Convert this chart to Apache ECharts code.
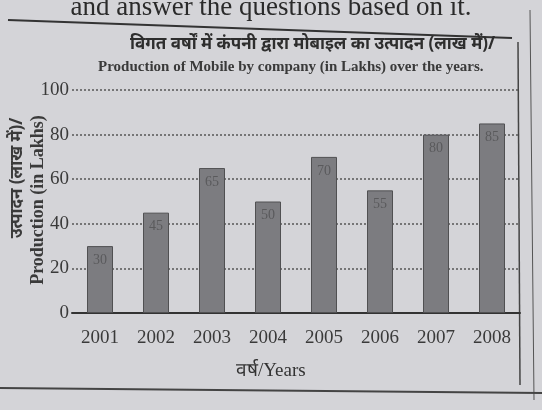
<!DOCTYPE html>
<html><head><meta charset="utf-8">
<script src="https://cdn.jsdelivr.net/npm/echarts@6/dist/echarts.min.js"></script>
<style>html,body{margin:0;padding:0;background:#d4d4d8}#c{width:542px;height:410px}</style>
</head><body><div id="c"></div>
<script>
const years = ['2001','2002','2003','2004','2005','2006','2007','2008'];
const production = [30, 45, 65, 50, 70, 55, 80, 85];
const yTicks = [0, 20, 40, 60, 80, 100];

const chart = echarts.init(document.getElementById('c'));
const serif = '"Liberation Serif","DejaVu Serif",serif';
chart.setOption({
  backgroundColor: '#d4d4d8',
  animation: false,
  graphic: [
    {type:'text', left: 'center', top: -6, style:{text:'and answer the questions based on it.', font:'27px ' + serif, fill:'#2a2a2a'}},
    {type:'line', shape:{x1:8,y1:20,x2:512,y2:38}, style:{stroke:'#333', lineWidth:2}},
    {type:'line', shape:{x1:518,y1:42,x2:520,y2:385}, style:{stroke:'#444', lineWidth:1.5}},
    {type:'line', shape:{x1:530,y1:10,x2:534,y2:400}, style:{stroke:'#555', lineWidth:1}},
    {type:'line', shape:{x1:0,y1:388,x2:542,y2:393}, style:{stroke:'#444', lineWidth:2}},
    {type:'text', left: 130, top: 36, style:{text:'विगत वर्षों में कंपनी द्वारा मोबाइल का उत्पादन (लाख में)/', font:'bold 17px "Noto Sans", sans-serif', fill:'#2e2e2e'}},
    {type:'text', left: 98, top: 60, style:{text:'Production of Mobile by company (in Lakhs) over the years.', font:'bold 15px ' + serif, fill:'#3a3a3a'}},
    {type:'text', left: 236, top: 362, style:{text:'वर्ष/Years', font:'19px ' + serif, fill:'#333'}},
    {type:'text', x: 17, y: 178, rotation: Math.PI/2,
     style:{text:'उत्पादन (लाख में)/', font:'bold 17px "Noto Sans", sans-serif', fill:'#3a3a3a', align:'center', verticalAlign:'middle'}},
    {type:'text', x: 38, y: 200, rotation: Math.PI/2,
     style:{text:'Production (in Lakhs)', font:'bold 18px ' + serif, fill:'#3a3a3a', align:'center', verticalAlign:'middle'}}
  ],
  grid: {left: 72, right: 22, top: 90, bottom: 97, outerBoundsMode: 'none', containLabel: false},
  xAxis: {
    type: 'category', data: years,
    axisLine: {lineStyle:{color:'#333', width:2}},
    axisTick: {show:false},
    axisLabel: {color:'#3a3a3a', fontSize:19, fontFamily: serif, margin: 16}
  },
  yAxis: {
    type: 'value', min: 0, max: 100, interval: 20,
    axisLine: {show:false}, axisTick: {show:false},
    axisLabel: {color:'#3a3a3a', fontSize:19, fontFamily: serif, margin: 3,
      formatter: v => yTicks.includes(v) ? String(v) : ''},
    splitLine: {lineStyle:{color:'#555', type:[2,2], width:1.5}}
  },
  series: [{
    type: 'bar', data: production, barWidth: 26,
    itemStyle: {color:'#7c7c80', borderColor:'#505052', borderWidth:1},
    label: {show:true, position:'insideTop', color:'#5a5a5c', fontSize:14, fontFamily: serif, offset:[0,2]}
  }]
});
</script></body></html>
